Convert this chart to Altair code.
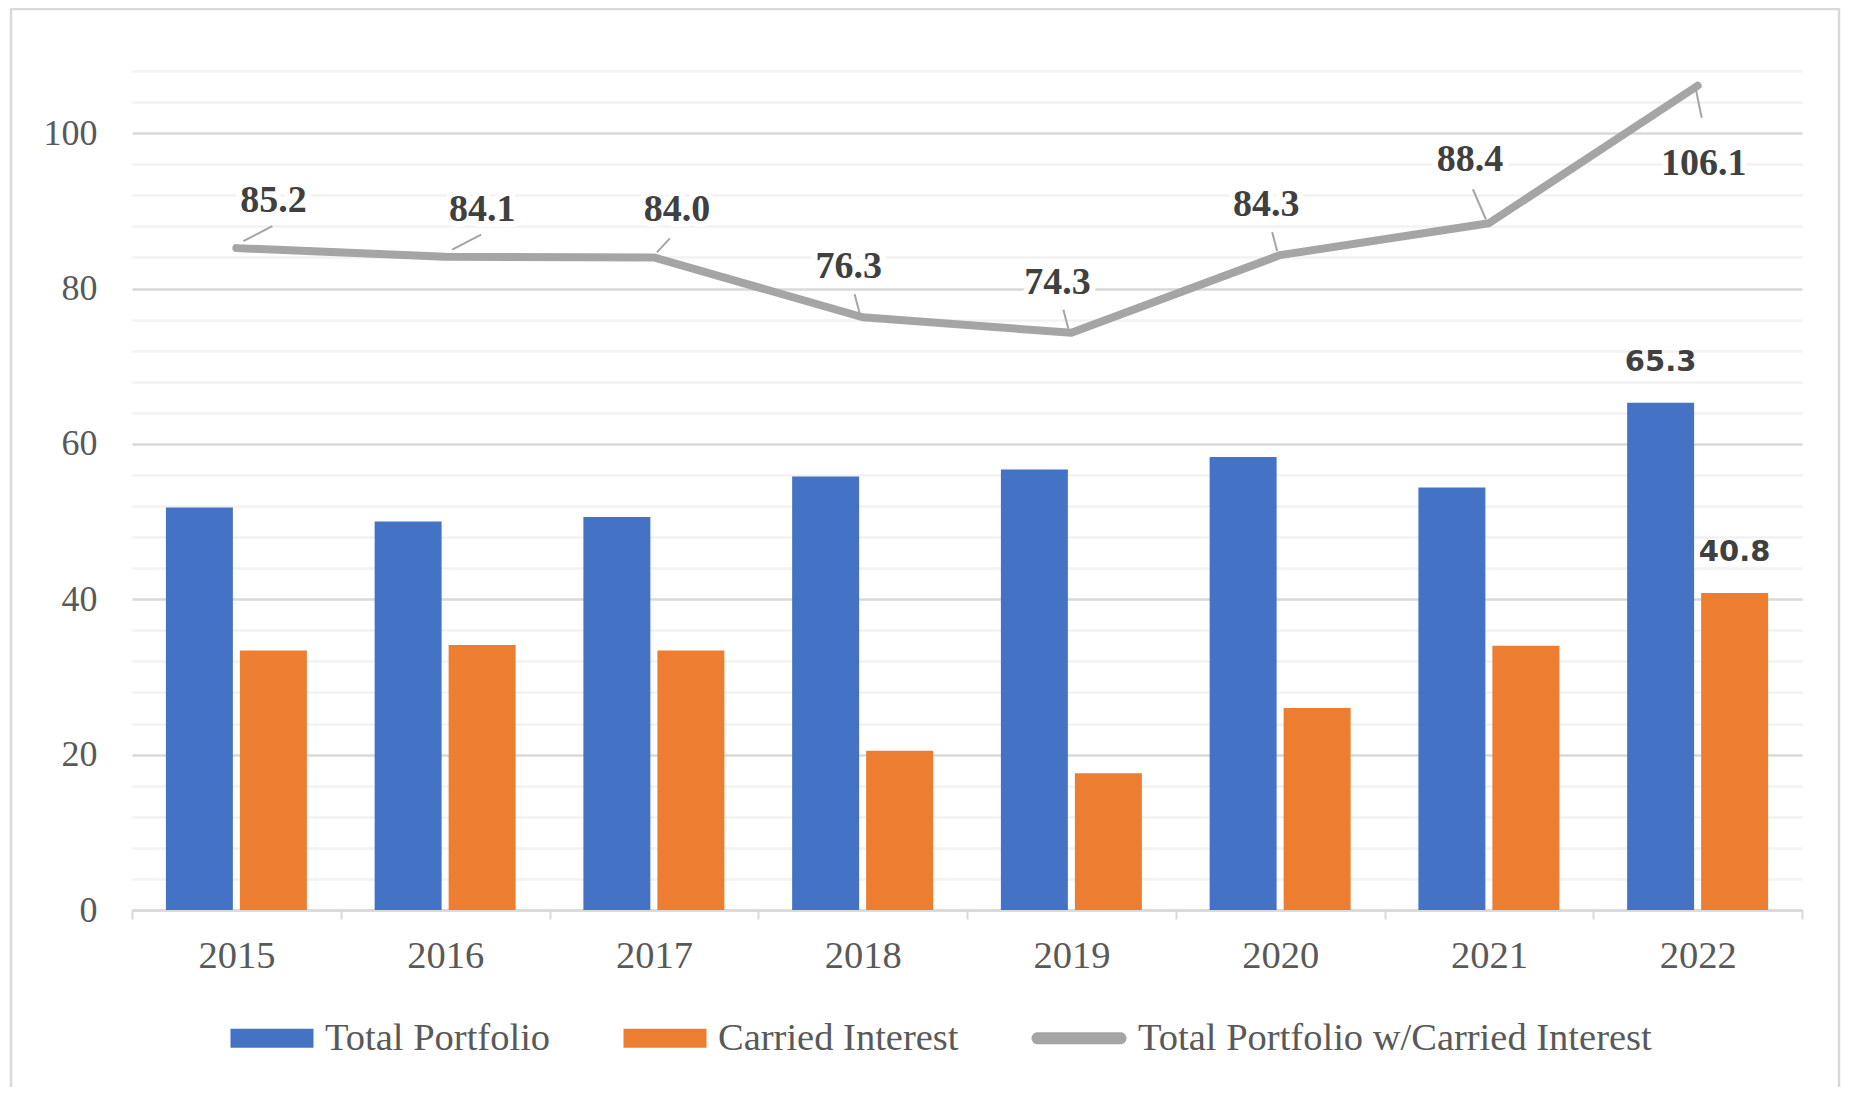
import altair as alt
import pandas as pd

years = ["2015", "2016", "2017", "2018", "2019", "2020", "2021", "2022"]
total_portfolio = [51.8, 50.0, 50.6, 55.8, 56.7, 58.3, 54.4, 65.3]
carried_interest = [33.4, 34.1, 33.4, 20.5, 17.6, 26.0, 34.0, 40.8]
total_with_carried = [85.2, 84.1, 84.0, 76.3, 74.3, 84.3, 88.4, 106.1]
series_names = ["Total Portfolio", "Carried Interest", "Total Portfolio w/Carried Interest"]
series_colors = ["#4472C4", "#ED7D31", "#A5A5A5"]
y_grid_values = list(range(0, 109, 4))
bar_label_years = ["2022"]

bars_df = pd.DataFrame({
    "year": years * 2,
    "series": [series_names[0]] * len(years) + [series_names[1]] * len(years),
    "value": total_portfolio + carried_interest,
})
line_df = pd.DataFrame({"year": years, "series": series_names[2], "value": total_with_carried})

SERIF = "Liberation Serif"
GRAY_TXT = "#595959"
LABEL_TXT = "#404040"

x_enc = alt.X(
    "year:N", sort=years,
    scale=alt.Scale(paddingInner=0, paddingOuter=0),
    axis=alt.Axis(title=None, labelAngle=0, labelFont=SERIF, labelFontSize=38.5,
                  labelColor=GRAY_TXT, labelPadding=18, tickBand="extent", ticks=True,
                  tickSize=9, tickColor="#D9D9D9", tickWidth=2, domainColor="#D9D9D9",
                  domainWidth=2.5, grid=False),
)
y_enc = alt.Y(
    "value:Q",
    scale=alt.Scale(domain=[0, 108], nice=False, zero=True),
    axis=alt.Axis(values=y_grid_values, title=None, domain=False, ticks=False,
                  labelExpr="datum.value % 20 === 0 ? datum.label : ''",
                  labelFont=SERIF, labelFontSize=36, labelColor=GRAY_TXT, labelPadding=35,
                  labelOverlap=False, grid=True,
                  gridColor={"condition": {"test": "datum.value % 20 === 0", "value": "#D9D9D9"},
                             "value": "#F2F2F2"},
                  gridWidth=2.5),
)

rect_path = "M-2.075,-0.475 L2.075,-0.475 L2.075,0.475 L-2.075,0.475 Z"
pill_path = ("M-2.375,-0.3 L1.775,-0.3 A0.3,0.3 0 0 1 1.775,0.3 "
             "L-2.375,0.3 A0.3,0.3 0 0 1 -2.375,-0.3 Z")
symbol_expr = ("datum.value === '" + series_names[2] + "' ? '" + pill_path + "' : '" + rect_path + "'")

bars = alt.Chart(bars_df).mark_bar().encode(
    x=x_enc,
    xOffset=alt.XOffset("series:N", sort=series_names[:2],
                        scale=alt.Scale(paddingInner=0.095, paddingOuter=0.458)),
    y=y_enc,
    color=alt.Color(
        "series:N",
        scale=alt.Scale(domain=series_names, range=series_colors),
        legend=alt.Legend(title=None, orient="none", legendX=120, legendY=947,
                          direction="horizontal", symbolType={"expr": symbol_expr},
                          symbolSize=1600, symbolStrokeWidth=0, labelFont=SERIF,
                          labelFontSize=38.5, labelColor=GRAY_TXT, labelOffset=33,
                          columnPadding=72, labelLimit=1000, padding=0),
    ),
)

bar_labels = alt.Chart(bars_df).transform_filter(
    alt.FieldOneOfPredicate(field="year", oneOf=bar_label_years)
).mark_text(font="DejaVu Sans", fontWeight="bold", fontSize=29, color=LABEL_TXT,
            baseline="middle", dy=-41).encode(
    x=x_enc,
    xOffset=alt.XOffset("series:N", sort=series_names[:2]),
    y=y_enc,
    text=alt.Text("value:Q", format=".1f"),
)

line = alt.Chart(line_df).mark_line(color="#A5A5A5", strokeWidth=8, strokeCap="round",
                                    strokeJoin="round").encode(x=x_enc, y=y_enc)

# label placement groups (style: leader shape and text offset)
groups = [
    (["2015", "2016"], "M0.7,-0.7 L3.6,-2.2", 37, -47),
    (["2017"], "M0.3,-0.5 L1.6,-1.9", 23, -47),
    (["2018", "2019", "2020"], "M-0.3,-0.4 L-0.8,-2.3", -14, -50),
    (["2021"], "M-0.3,-0.4 L-1.6,-3.4", -19, -63),
    (["2022"], "M-0.2,0.2 L0.4,3.2", 6, 78),
]

layers = []
frame = alt.Chart(pd.DataFrame({"f": [0]})).mark_rect(
    fillOpacity=0, stroke="#D9D9D9", strokeWidth=2.5
).encode(x=alt.value(-121), x2=alt.value(1707), y=alt.value(-62), y2=alt.value(1100))
layers.append(frame)
layers += [bars, bar_labels, line]

for yrs, path, dx, dy in groups:
    base = alt.Chart(line_df).transform_filter(alt.FieldOneOfPredicate(field="year", oneOf=yrs))
    leader = base.mark_point(shape=path, size=400, filled=False, color="#A5A5A5",
                             strokeWidth=2, opacity=1).encode(x=x_enc, y=y_enc)
    halo = base.mark_text(font=SERIF, fontWeight="bold", fontSize=38, color="white",
                          stroke="white", strokeWidth=12, strokeJoin="round",
                          baseline="middle", dx=dx, dy=dy).encode(
        x=x_enc, y=y_enc, text=alt.Text("value:Q", format=".1f"))
    txt = base.mark_text(font=SERIF, fontWeight="bold", fontSize=38, color=LABEL_TXT,
                         baseline="middle", dx=dx, dy=dy).encode(
        x=x_enc, y=y_enc, text=alt.Text("value:Q", format=".1f"))
    layers += [leader, halo, txt]

chart = alt.layer(*layers).properties(
    width=1670, height=839,
    padding={"left": 124, "top": 63, "right": 39, "bottom": 177},
    autosize=alt.AutoSizeParams(type="none"),
    background="white",
).configure_view(stroke=None)

chart.save("out.html", embed_options={"renderer": "svg", "actions": False})
